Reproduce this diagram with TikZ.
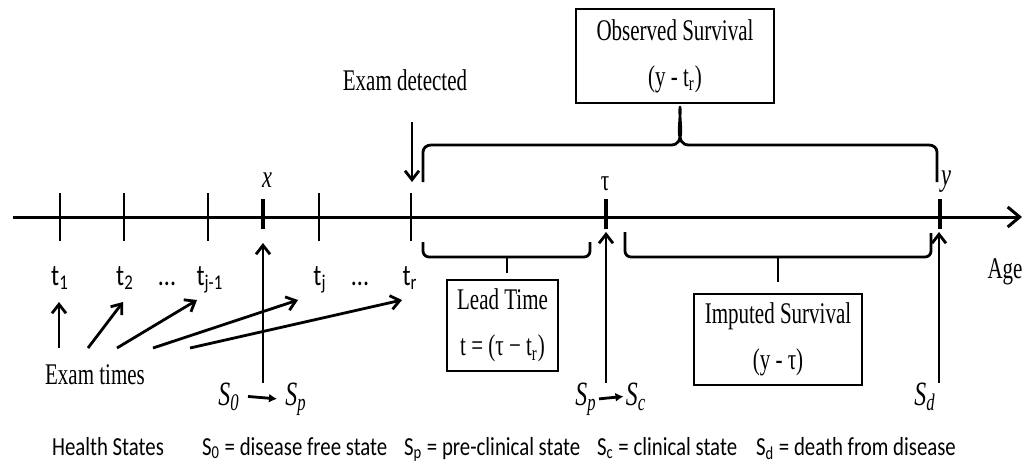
\documentclass[tikz,border=0pt]{standalone}
\usepackage{fontspec}
\setmainfont{Liberation Serif}[FakeStretch=0.7]
\newfontfamily\lblfont{Carlito}[FakeStretch=0.8]
\usetikzlibrary{arrows.meta}

\begin{document}
\begin{tikzpicture}[x=0.5pt,y=-0.5pt,
    axis/.style={line width=1.5pt,-{Straight Barb[length=6pt,width=10pt]}},
    thintick/.style={line width=1.1pt},
    thicktick/.style={line width=2.4pt},
    arr/.style={line width=1.4pt,-{Straight Barb[length=4.5pt,width=7pt]}},
    sarr/.style={line width=1.4pt,-{Latex[length=4pt,width=4.5pt]}},
    brace/.style={line width=1.4pt,line join=round},
    infobox/.style={draw,line width=1.2pt,inner sep=0pt,align=center,
        font=\fontsize{15}{23}\selectfont},
    serif/.style={font=\fontsize{15}{17}\selectfont},
    lbl/.style={font=\lblfont\fontsize{13}{15}\selectfont},
    tlbl/.style={font=\lblfont\fontsize{15}{17}\selectfont,anchor=base},
    state/.style={font=\fontsize{17}{19}\selectfont\itshape,anchor=base,inner sep=1pt}]
    \path[use as bounding box,fill=white] (0,0) rectangle (1031,472);
    %\draw[very thin,color=gray] (0,0) grid[step=50] (1031,472);
    % time axis
    \coordinate (start) at (13,217);
    \coordinate (stop) at (1022,217);
    \draw[axis] (start) -- (stop);
    \foreach \p in {60,124,208,319,411}
        \draw[thintick] (\p,193) -- (\p,241);
    \foreach \p in {263,606,940}
        \draw[thicktick] (\p,199) -- (\p,229);
    \node[tlbl] (lt1) at (60,285) {t\textsubscript{1}};
    \node[tlbl] (lt2) at (125,285) {t\textsubscript{2}};
    \node[tlbl] (dots1) at (167,285) {...};
    \node[tlbl] (ltj1) at (210,285) {t\textsubscript{j-1}};
    \node[tlbl] (ltj) at (320,285) {t\textsubscript{j}};
    \node[tlbl] (dots2) at (360,285) {...};
    \node[tlbl] (ltr) at (410,285) {t\textsubscript{r}};
    \node[font=\fontsize{16}{18}\selectfont\itshape] (xl) at (267,180) {x};
    \node[serif] (taul) at (605,184) {τ};
    \node[font=\fontsize{16}{18}\selectfont\itshape] (yl) at (946,182) {y};
    \node[serif] (age) at (1005,272) {Age};
    % exam times
    \node[serif] (times) at (95,375) {Exam times};
    \coordinate (b1) at (59,348);  \coordinate (a1) at (59,302);
    \coordinate (b2) at (88,348);  \coordinate (a2) at (123,302);
    \coordinate (b3) at (117,348); \coordinate (a3) at (197,300);
    \coordinate (b4) at (153,348); \coordinate (a4) at (298,300);
    \coordinate (b5) at (190,348); \coordinate (a5) at (402,300);
    \foreach \i in {1,...,5}
        \draw[arr] (b\i) -- (a\i);
    % exam detected
    \node[serif] (det) at (405,80) {Exam detected};
    \coordinate (d1) at (412,122);
    \coordinate (d2) at (412,182);
    \draw[arr] (d1) -- (d2);
    % observed survival
    \node[infobox,minimum width=99pt,minimum height=47pt] (obs) at (675,56)
        {Observed Survival\\(y - t\textsubscript{r})};
    \draw[brace] (423,182) -- (423,152) to[out=90,in=180] (431,145) -- (671,145)
        to[out=0,in=-95] (680,107) to[out=-85,in=180] (689,145) -- (929,145)
        to[out=0,in=90] (937,152) -- (937,182);
    % lead time
    \draw[brace] (423,242) -- (423,251) to[out=-90,in=180] (429,257) -- (584,257)
        to[out=0,in=-90] (590,251) -- (590,242);
    \draw[brace] (507,257) -- (507,273);
    \node[infobox,minimum width=55.5pt,minimum height=45.5pt] (lead) at (502.5,325.5)
        {Lead Time\\t = (τ − t\textsubscript{r})};
    % imputed survival
    \draw[brace] (625,232) -- (625,251) to[out=-90,in=180] (631,257) -- (925,257)
        to[out=0,in=-90] (931,251) -- (931,233);
    \draw[brace] (778,257) -- (778,282);
    \node[infobox,minimum width=84pt,minimum height=45.5pt] (imp) at (778,339.5)
        {Imputed Survival\\(y - τ)};
    % health state transitions
    \node[state] (s0) at (229,405) {S\textsubscript{0}};
    \node[state] (sp1) at (296,405) {S\textsubscript{p}};
    \node[state] (sp2) at (586,405) {S\textsubscript{p}};
    \node[state] (sc) at (636,405) {S\textsubscript{c}};
    \node[state] (sd) at (925,405) {S\textsubscript{d}};
    \draw[sarr] ([xshift=3pt]s0.east) -- ([xshift=-3pt]sp1.west);
    \draw[sarr] (sp2.east) -- (sc.west);
    \coordinate (xb) at (263,383);  \coordinate (xa) at (263,243);
    \coordinate (tb) at (606,383);  \coordinate (ta) at (606,232);
    \coordinate (yb) at (939,383);  \coordinate (ya) at (939,232);
    \draw[arr] (xb) -- (xa);
    \draw[arr] (tb) -- (ta);
    \draw[arr] (yb) -- (ya);
    % legend
    \node[lbl,anchor=base west] (hs) at (45,455) {Health States};
    \node[lbl,anchor=base west] (k0) at (195,455) {S\textsubscript{0} = disease free state};
    \node[lbl,anchor=base west] (kp) at (397,455) {S\textsubscript{p} = pre-clinical state};
    \node[lbl,anchor=base west] (kc) at (590,455) {S\textsubscript{c} = clinical state};
    \node[lbl,anchor=base west] (kd) at (749,455) {S\textsubscript{d} = death from disease};
\end{tikzpicture}
\end{document}
